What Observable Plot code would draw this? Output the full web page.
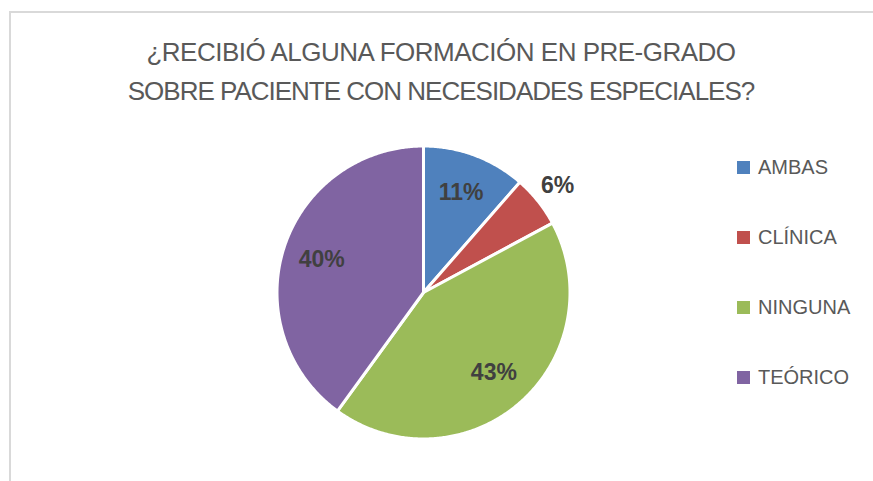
<!DOCTYPE html>
<html>
<head>
<meta charset="utf-8">
<script src="https://cdn.jsdelivr.net/npm/d3@7"></script>
<script src="https://cdn.jsdelivr.net/npm/@observablehq/plot@0.6"></script>
<style>
  html, body { margin: 0; padding: 0; background: #fff; }
  #wrap { position: relative; width: 873px; height: 481px; overflow: hidden; font-family: "Liberation Sans", Arial, sans-serif; }
  #frame { position: absolute; left: 9px; top: 11px; right: -4px; bottom: -4px; border-left: 2px solid #d9d9d9; border-top: 2px solid #d9d9d9; }
  #chart { position: absolute; left: 0; top: 0; }
  #title { position: absolute; left: 9px; right: 0; top: 33px; text-align: center; color: #595959; font-size: 26px; line-height: 39px; white-space: nowrap; }
  #title .l1 { letter-spacing: -0.5px; }
  #title .l2 { letter-spacing: -1px; }
  #legend { position: absolute; left: 737px; top: 0; color: #595959; font-size: 20px; }
  #legend .item { position: absolute; left: 0; display: flex; align-items: center; white-space: nowrap; }
  #legend .sw { width: 13px; height: 13px; margin-right: 8px; }
</style>
</head>
<body>
<div id="wrap">
  <div id="frame"></div>
  <div id="chart"></div>
  <div id="title"><div class="l1">¿RECIBIÓ ALGUNA FORMACIÓN EN PRE-GRADO</div><div class="l2">SOBRE PACIENTE CON NECESIDADES ESPECIALES?</div></div>
  <div id="legend"></div>
</div>
<script>
// Data
const categories = ["AMBAS", "CLÍNICA", "NINGUNA", "TEÓRICO"];
const counts = [4, 2, 15, 14];
const colors = ["#4f81bd", "#c0504d", "#9bbb59", "#8064a2"];

const total = d3.sum(counts);
const pie = d3.pie().sort(null).value(d => d.count)(categories.map((c, i) => ({cat: c, count: counts[i]})));

// Build slice outlines (unit circle, clockwise from 12 o'clock)
const pts = [];
for (const s of pie) {
  const c = s.data.cat;
  pts.push({cat: c, x: 0, y: 0});
  const n = Math.max(2, Math.ceil((s.endAngle - s.startAngle) / (Math.PI / 360)));
  for (let k = 0; k <= n; k++) {
    const a = s.startAngle + (s.endAngle - s.startAngle) * k / n;
    pts.push({cat: c, x: Math.sin(a), y: Math.cos(a)});
  }
  pts.push({cat: c, x: 0, y: 0});
}

const labels = pie.map(s => {
  const share = s.data.count / total;
  const a = (s.startAngle + s.endAngle) / 2;
  const r = share < 0.08 ? 1.17 : 0.73;
  return {cat: s.data.cat, text: Math.round(share * 100) + "%", x: r * Math.sin(a), y: r * Math.cos(a)};
});

const R = 146.5, cx = 423, cy = 292, W = 873, H = 481;
const chart = Plot.plot({
  width: W,
  height: H,
  marginLeft: cx - R,
  marginRight: W - (cx + R),
  marginTop: cy - R,
  marginBottom: H - (cy + R),
  x: {domain: [-1, 1], axis: null},
  y: {domain: [-1, 1], axis: null},
  color: {domain: categories, range: colors},
  style: {background: "transparent", overflow: "visible"},
  marks: [
    Plot.line(pts, {x: "x", y: "y", z: "cat", fill: "cat", stroke: "white", strokeWidth: 3, strokeLinejoin: "round", curve: "linear"}),
    Plot.text(labels, {x: "x", y: "y", text: "text", fill: "#404040", fontSize: 23, fontWeight: "bold", fontFamily: "'Liberation Sans', Arial, sans-serif"})
  ]
});
document.getElementById("chart").appendChild(chart);

// Legend
const legend = document.getElementById("legend");
const color = chart.scale("color");
categories.forEach((c, i) => {
  const item = document.createElement("div");
  item.className = "item";
  item.style.top = (167 + 70 * i - 12) + "px";
  item.style.height = "24px";
  const sw = document.createElement("span");
  sw.className = "sw";
  sw.style.background = color.apply(c);
  const t = document.createElement("span");
  t.textContent = c;
  item.appendChild(sw);
  item.appendChild(t);
  legend.appendChild(item);
});
</script>
</body>
</html>
